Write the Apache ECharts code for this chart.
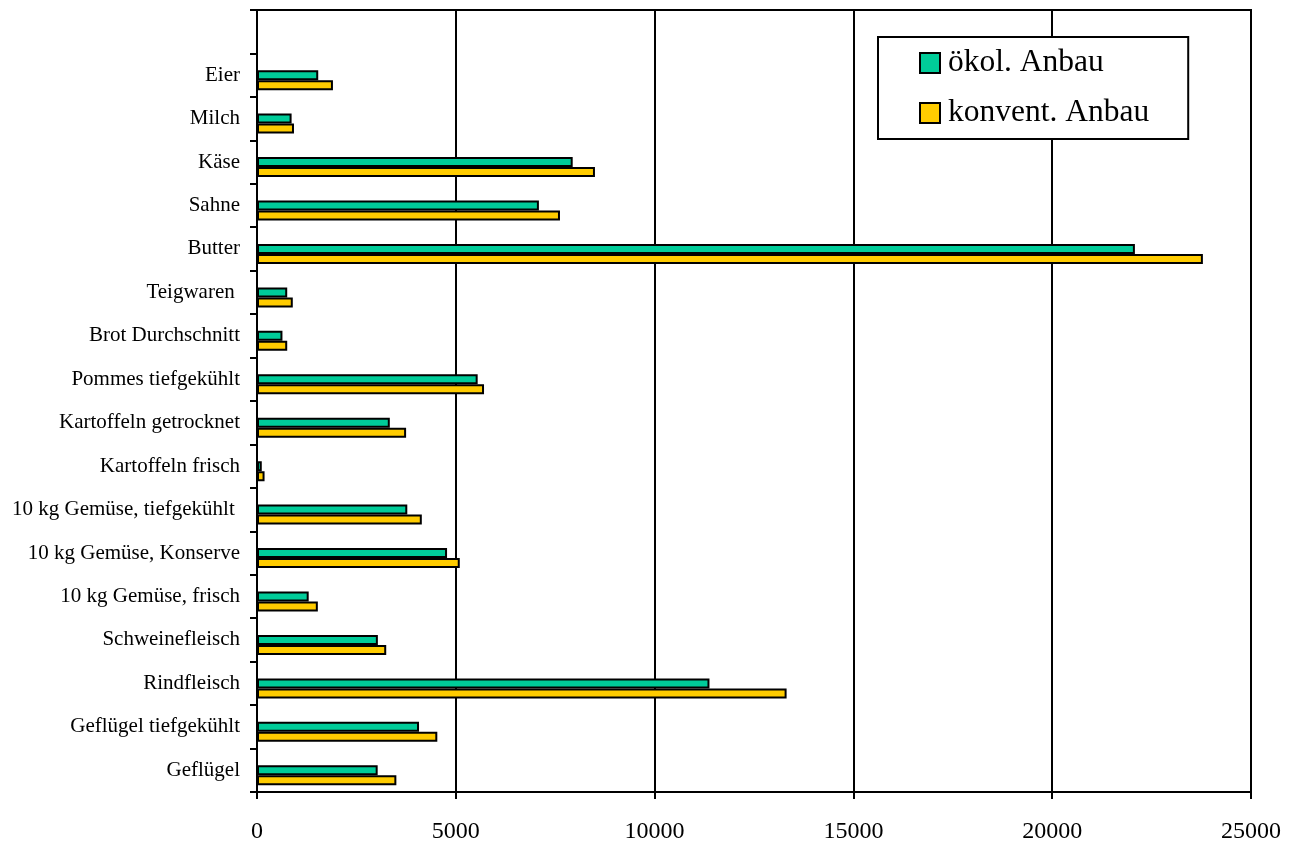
<!DOCTYPE html>
<html>
<head>
<meta charset="utf-8">
<script src="https://cdn.jsdelivr.net/npm/echarts@6/dist/echarts.min.js"></script>
<style>
html,body{margin:0;padding:0;background:#fff;}
#chart{width:1296px;height:841px;}
</style>
</head>
<body>
<div id="chart"></div>
<script>
// Categories listed top to bottom (first entry is the empty slot at the top)
const categories = ["", "Eier", "Milch", "Käse", "Sahne", "Butter", "Teigwaren ", "Brot Durchschnitt",
  "Pommes tiefgekühlt", "Kartoffeln getrocknet", "Kartoffeln frisch", "10 kg Gemüse, tiefgekühlt ",
  "10 kg Gemüse, Konserve", "10 kg Gemüse, frisch", "Schweinefleisch", "Rindfleisch",
  "Geflügel tiefgekühlt", "Geflügel"];
const oekol = [null, 1540, 870, 7940, 7090, 22080, 760, 640, 5550, 3340, 120, 3780, 4780, 1300, 3040, 11380, 4075, 3035];
const konvent = [null, 1910, 930, 8500, 7620, 23790, 900, 760, 5710, 3750, 190, 4145, 5100, 1530, 3250, 13320, 4535, 3505];
const seriesNames = ["ökol. Anbau", "konvent. Anbau"];
const xTicks = { min: 0, max: 25000, interval: 5000 };

const FONT = "'Liberation Serif', 'Times New Roman', serif";
const rev = a => a.slice().reverse();

const chart = echarts.init(document.getElementById('chart'), null, { renderer: 'canvas' });
chart.setOption({
  animation: false,
  backgroundColor: '#ffffff',
  grid: { left: 257, right: 45, top: 10, bottom: 49, show: true, borderColor: '#000', borderWidth: 2,
          backgroundColor: 'transparent', containLabel: false, outerBoundsMode: 'none' },
  legend: {
    data: seriesNames,
    orient: 'vertical',
    left: 878, top: 37,
    padding: [10, 39, 10, 41],
    itemWidth: 20, itemHeight: 20, itemGap: 18,
    icon: 'rect',
    backgroundColor: '#fff',
    borderColor: '#000', borderWidth: 2,
    itemStyle: { borderColor: '#000', borderWidth: 2 },
    textStyle: { fontFamily: FONT, fontSize: 31.5, color: '#000', padding: [0, 0, 0, 3] }
  },
  xAxis: {
    type: 'value', min: xTicks.min, max: xTicks.max, interval: xTicks.interval,
    axisLine: { show: true, lineStyle: { color: '#000', width: 2 } },
    axisTick: { show: true, length: 7, lineStyle: { color: '#000', width: 2 } },
    splitLine: { show: true, lineStyle: { color: '#000', width: 2 } },
    axisLabel: { fontFamily: FONT, fontSize: 24, color: '#000', margin: 28, formatter: v => String(v) }
  },
  yAxis: {
    type: 'category', data: rev(categories), boundaryGap: true,
    axisLine: { show: true, lineStyle: { color: '#000', width: 2 } },
    axisTick: { show: true, length: 7, interval: 0, lineStyle: { color: '#000', width: 2 } },
    axisLabel: { fontFamily: FONT, fontSize: 21, color: '#000', margin: 17, interval: 0 },
    splitLine: { show: false }
  },
  series: [
    { name: '_spacer', type: 'bar', data: [], barWidth: 10, barGap: '0%', silent: true, itemStyle: { color: 'transparent' } },
    { name: seriesNames[0], type: 'bar', data: rev(oekol), barWidth: 10, barGap: '0%',
      itemStyle: { color: '#00CC99', borderColor: '#000', borderWidth: 2 } },
    { name: seriesNames[1], type: 'bar', data: rev(konvent), barWidth: 10, barGap: '0%',
      itemStyle: { color: '#FFCC00', borderColor: '#000', borderWidth: 2 } }
  ]
});
</script>
</body>
</html>
